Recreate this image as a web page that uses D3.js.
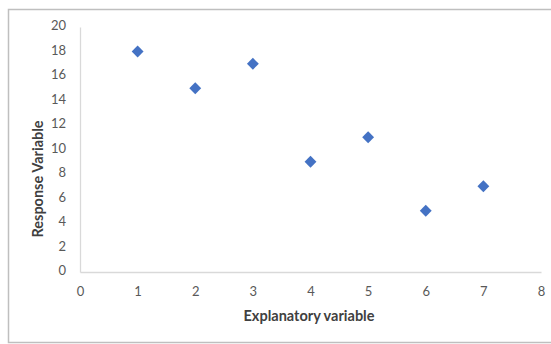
<!DOCTYPE html>
<html><head><meta charset="utf-8">
<script src="https://cdn.jsdelivr.net/npm/d3@7"></script>
<style>body{margin:0;background:#fff;} svg{display:block;}</style>
</head><body>
<svg id="c" width="551" height="344"></svg>
<script>
const xValues = [1, 2, 3, 4, 5, 6, 7];
const yValues = [18, 15, 17, 9, 11, 5, 7];
const xTicks = [0, 1, 2, 3, 4, 5, 6, 7, 8];
const yTicks = [0, 2, 4, 6, 8, 10, 12, 14, 16, 18, 20];
const xTitle = "Explanatory variable";
const yTitle = "Response Variable";

const svg = d3.select("#c");
const font = "Lato, 'Open Sans', sans-serif";
svg.append("rect").attr("x", 8.5).attr("y", 9.5).attr("width", 560).attr("height", 333)
  .attr("fill", "#fff").attr("stroke", "#bfbfbf").attr("stroke-width", 1.5);

const x = d3.scaleLinear().domain([0, 8]).range([80, 541]);
const y = d3.scaleLinear().domain([0, 20]).range([272, 27]);

const gx = svg.append("g").attr("transform", "translate(0,272)")
  .call(d3.axisBottom(x).tickValues(xTicks).tickSize(0).tickPadding(15));
const gy = svg.append("g").attr("transform", "translate(80,0)")
  .call(d3.axisLeft(y).tickValues(yTicks).tickSize(0).tickPadding(14));
[gx, gy].forEach(g => {
  g.select(".domain").attr("stroke", "#d9d9d9").attr("stroke-width", 1.3);
  g.selectAll("text").attr("fill", "#595959").attr("font-size", 13).attr("font-family", font);
});
gy.selectAll("text").attr("dy", "0.2em");

const diamond = d3.symbol().type(d3.symbolDiamond2).size(90);
svg.append("g").selectAll("path").data(xValues).join("path")
  .attr("d", diamond)
  .attr("transform", (d, i) => `translate(${x(d)},${y(yValues[i])})`)
  .attr("fill", "#4472c4");

svg.append("text").attr("x", 309).attr("y", 321).attr("text-anchor", "middle")
  .attr("font-family", font).attr("font-size", 14.5).attr("font-weight", "bold").attr("fill", "#404040")
  .text(xTitle);
svg.append("text").attr("transform", "translate(43,179) rotate(-90)").attr("text-anchor", "middle")
  .attr("font-family", font).attr("font-size", 14.5).attr("font-weight", "bold").attr("fill", "#404040")
  .text(yTitle);
</script>
</body></html>
